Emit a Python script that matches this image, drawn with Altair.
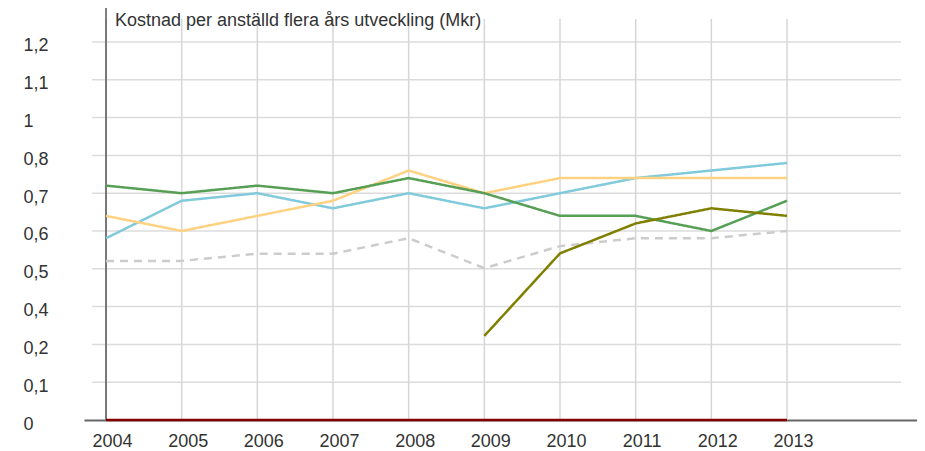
import altair as alt
import pandas as pd

years = [2004, 2005, 2006, 2007, 2008, 2009, 2010, 2011, 2012, 2013]
green = [0.744, 0.72, 0.744, 0.72, 0.768, 0.72, 0.648, 0.648, 0.60, 0.696]
blue = [0.577, 0.696, 0.72, 0.672, 0.72, 0.672, 0.72, 0.768, 0.792, 0.816]
orange = [0.648, 0.60, 0.648, 0.696, 0.792, 0.72, 0.768, 0.768, 0.768, 0.768]
gray = [0.505, 0.505, 0.528, 0.528, 0.577, 0.482, 0.552, 0.577, 0.577, 0.60]
olive = [None, None, None, None, None, 0.267, 0.529, 0.624, 0.672, 0.648]
red = [0, 0, 0, 0, 0, 0, 0, 0, 0, 0]

y_ticks = [0, 0.12, 0.24, 0.36, 0.48, 0.6, 0.72, 0.84, 0.96, 1.08, 1.2]
title_text = "Kostnad per anställd flera års utveckling (Mkr)"

series = {
    "red": red,
    "gray": gray,
    "blue": blue,
    "orange": orange,
    "green": green,
    "olive": olive,
}
colors = {
    "red": "#800000",
    "gray": "#cccccc",
    "blue": "#80cadb",
    "orange": "#ffd281",
    "green": "#579f55",
    "olive": "#808000",
}
rows = []
for name, vals in series.items():
    for yr, v in zip(years, vals):
        if v is not None:
            rows.append({"year": yr, "value": v, "series": name})
df = pd.DataFrame(rows)

FONT = "Liberation Sans"
FS = 18
xscale = alt.Scale(domain=[2003.709, 2014.718], nice=False, zero=False)
yscale = alt.Scale(domain=[0, 1.3079], nice=False, zero=False)

hgrid = (
    alt.Chart(pd.DataFrame({"v": y_ticks[1:]}))
    .mark_rule(color="#dcdcdc", strokeWidth=1.5)
    .encode(
        y=alt.Y("v:Q", scale=yscale,
                axis=alt.Axis(values=y_ticks, labelExpr="replace(format(datum.value, '.1~f'), '.', ',')",
                              labelAlign="left", labelBaseline="middle", labelPadding=61, labelOffset=4,
                              ticks=False, domain=False, grid=False, title=None,
                              labelFont=FONT, labelFontSize=FS, labelColor="#333333")),
        x=alt.datum(2003.815),
        x2=alt.datum(2014.507),
    )
)

vgrid = (
    alt.Chart(pd.DataFrame({"year": years}))
    .mark_rule(color="#d6d6d6", strokeWidth=1.5)
    .encode(
        x=alt.X("year:Q", scale=xscale,
                axis=alt.Axis(values=years, format="d", labelAlign="center", labelBaseline="top",
                              labelPadding=12, labelOffset=6, ticks=False, grid=False, title=None,
                              domainColor="#666666", domainWidth=2,
                              labelFont=FONT, labelFontSize=FS, labelColor="#333333")),
        y=alt.datum(0),
        y2=alt.datum(1.273),
    )
)

yline = (
    alt.Chart(pd.DataFrame({"year": [years[0]]}))
    .mark_rule(color="#555555", strokeWidth=1.5)
    .encode(x="year:Q", y=alt.datum(0), y2=alt.datum(1.3079))
)

lines = (
    alt.Chart(df)
    .mark_line(strokeWidth=2.5)
    .encode(
        x="year:Q",
        y="value:Q",
        color=alt.Color("series:N", scale=alt.Scale(domain=list(colors.keys()), range=list(colors.values())),
                        legend=None),
        strokeDash=alt.StrokeDash("series:N",
                                  scale=alt.Scale(domain=list(colors.keys()),
                                                  range=[[1, 0], [8, 6], [1, 0], [1, 0], [1, 0], [1, 0]]),
                                  legend=None),
        order=alt.Order("year:Q"),
    )
)

chart = (
    alt.layer(hgrid, vgrid, yline, lines)
    .properties(
        width=833,
        height=412,
        padding={"left": 76, "top": 0, "right": 0, "bottom": 30},
        autosize=alt.AutoSizeParams(type="none"),
        title=alt.Title(title_text, anchor="start", frame="group", orient="top", offset=-37,
                        dx=31, baseline="alphabetic", font=FONT, fontSize=FS,
                        fontWeight="normal", color="#333333"),
    )
    .configure_view(stroke=None)
)

chart.save("out.html", embed_options={"renderer": "svg", "actions": False})
